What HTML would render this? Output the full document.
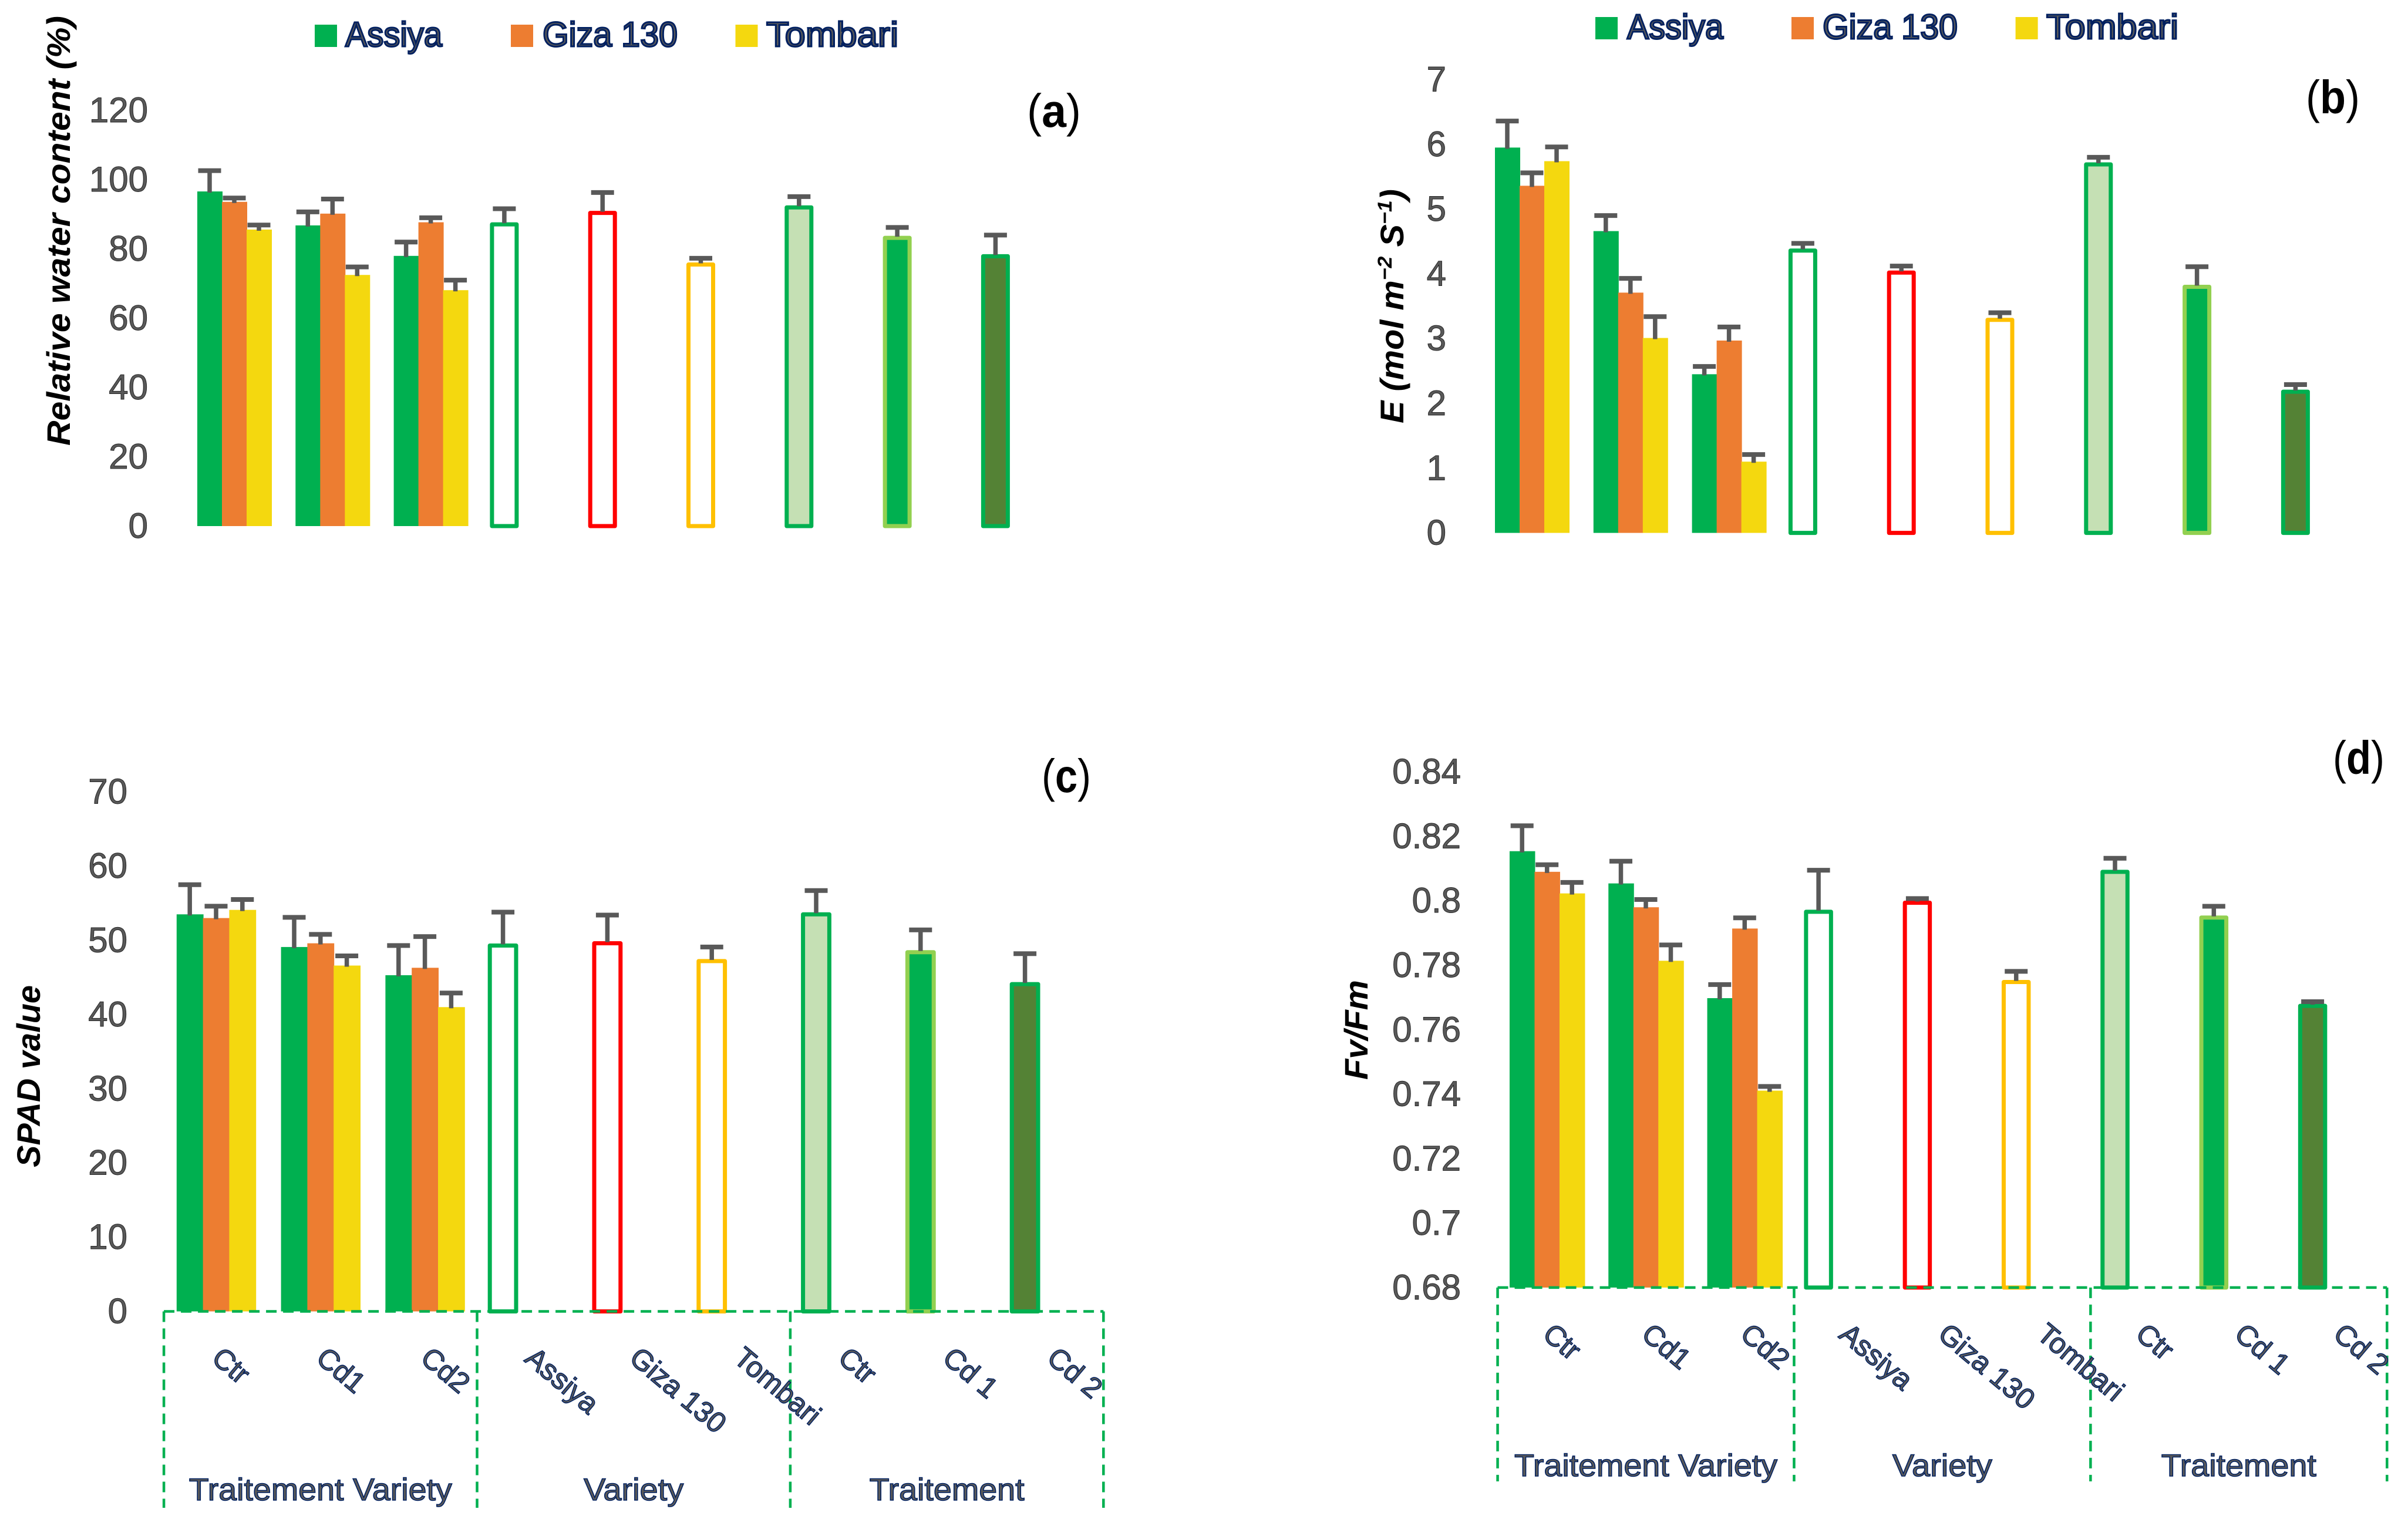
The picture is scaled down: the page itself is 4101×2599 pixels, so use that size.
<!DOCTYPE html>
<html lang="en">
<head>
<meta charset="utf-8">
<title>Relative water content, transpiration, SPAD and Fv/Fm</title>
<style>
html,body{margin:0;padding:0;background:#fff;width:4101px;height:2599px;overflow:hidden}
svg{display:block;font-family:"Liberation Sans",sans-serif}
</style>
</head>
<body>
<svg id="figure" xmlns="http://www.w3.org/2000/svg" width="4101" height="2599" viewBox="0 0 4101 2599"></svg>
<script>
// ---- Shared categories ----
const categories = ["Ctr", "Cd1", "Cd2", "Assiya", "Giza 130", "Tombari", "Ctr", "Cd 1", "Cd 2"];
const seriesNames = ["Assiya", "Giza 130", "Tombari"];
const groupNames = ["Traitement Variety", "Variety", "Traitement"];

// ---- Panel (a): Relative water content ----
const ticksA = [0, 20, 40, 60, 80, 100, 120];
const clusterA = [[96.6, 93.6, 85.6], [86.8, 90.2, 72.5], [78.0, 87.7, 68.1]];
const clusterErrA = [[102.6, 94.7, 86.9], [90.7, 94.4, 74.8], [82.0, 89.0, 71.0]];
const singleA = [87.1, 90.4, 75.5, 92.0, 83.2, 77.9];
const singleErrA = [91.6, 96.3, 77.3, 95.1, 86.2, 84.0];

// ---- Panel (b): E ----
const ticksB = [0, 1, 2, 3, 4, 5, 6, 7];
const clusterB = [[5.95, 5.36, 5.74], [4.66, 3.71, 3.01], [2.45, 2.97, 1.10]];
const clusterErrB = [[6.36, 5.56, 5.96], [4.90, 3.93, 3.34], [2.57, 3.18, 1.21]];
const singleB = [4.36, 4.02, 3.29, 5.69, 3.80, 2.18];
const singleErrB = [4.47, 4.12, 3.40, 5.80, 4.11, 2.29];

// ---- Panel (c): SPAD ----
const ticksC = [0, 10, 20, 30, 40, 50, 60, 70];
const clusterC = [[53.5, 53.0, 54.1], [49.1, 49.6, 46.6], [45.3, 46.3, 41.0]];
const clusterErrC = [[57.5, 54.6, 55.5], [53.1, 50.8, 47.9], [49.3, 50.5, 42.9]];
const singleC = [49.3, 49.6, 47.2, 53.5, 48.4, 44.1];
const singleErrC = [53.8, 53.4, 49.1, 56.7, 51.4, 48.2];

// ---- Panel (d): Fv/Fm ----
const ticksD = [0.68, 0.7, 0.72, 0.74, 0.76, 0.78, 0.8, 0.82, 0.84];
const clusterD = [[0.8154, 0.809, 0.8023], [0.8054, 0.798, 0.7814], [0.7698, 0.7914, 0.7411]];
const clusterErrD = [[0.8233, 0.8112, 0.8057], [0.8123, 0.8004, 0.7863], [0.774, 0.7947, 0.7424]];
const singleD = [0.7966, 0.7994, 0.7748, 0.809, 0.7948, 0.7674];
const singleErrD = [0.8095, 0.8007, 0.7781, 0.8132, 0.7983, 0.7687];

// ---- Styles ----
const seriesColors = ["#00B050", "#ED7D31", "#F4D80F"];
const singleFills = ["#FFFFFF", "#FFFFFF", "#FFFFFF", "#C5E0B4", "#00B050", "#548235"];
const singleStrokes = ["#00B050", "#FF0000", "#FFC000", "#00B050", "#92D050", "#00B050"];

const svg = document.getElementById("figure");
const NS = "http://www.w3.org/2000/svg";
function make(tag, attrs, parent) {
  const el = document.createElementNS(NS, tag);
  for (const k in attrs) el.setAttribute(k, attrs[k]);
  (parent || svg).appendChild(el);
  return el;
}

function drawErr(g, x, top, bottom) {
  const stem = make("line", {x1: x, x2: x, y1: top, y2: bottom + 2, stroke: "#595959", "stroke-width": 7.5}, g);
  
  
  const cap = make("line", {x1: x - 19.5, x2: x + 19.5, y1: top, y2: top, stroke: "#595959", "stroke-width": 8}, g);
  
  
}

function drawPanel(p) {
  const g = make("g", {});
  
  
  const yAt = v => p.y0 - (v - p.min) * p.unit;
  const cx = i => p.xc0 + i * p.step;

  // y tick labels
  p.ticks.forEach(t => {
    const el = make("text", {x: p.tickX, y: yAt(t) + 20, "font-size": 60, fill: "#595959", stroke: "#262626", "stroke-width": 1, "text-anchor": "end"}, g);
    el.textContent = String(t);
    
    
  });

  // clustered bars
  p.cluster.forEach((row, i) => {
    row.forEach((v, s) => {
      const x = cx(i) + (s - 1.5) * p.barW;
      const bar = make("rect", {x: x, y: yAt(v), width: p.barW + 1, height: p.y0 - yAt(v), fill: seriesColors[s]}, g);
      
      
    });
    row.forEach((v, s) => {
      drawErr(g, cx(i) + (s - 1) * p.barW, yAt(p.clusterErr[i][s]), yAt(v));
    });
  });

  // single outlined bars (share the first series slot of their category)
  p.single.forEach((v, k) => {
    const i = k + 3;
    const x = cx(i) - 1.5 * p.barW;
    const bar = make("rect", {x: x, y: yAt(v), width: p.barW, height: p.y0 - yAt(v), fill: singleFills[k], stroke: singleStrokes[k], "stroke-width": 7, "stroke-linejoin": "round"}, g);
    
    
    drawErr(g, x + p.barW / 2, yAt(p.singleErr[k]), yAt(v) - 4);
  });

  // y axis title
  const title = make("text", {transform: "translate(" + p.titleX + "," + p.titleY + ") rotate(-90)", "text-anchor": "middle", "font-size": p.titleSize, "font-weight": "bold", "font-style": "italic", fill: "#000", textLength: p.titleLen, lengthAdjust: "spacingAndGlyphs"}, g);
  
  
  p.title.forEach(part => {
    const ts = make("tspan", part.sup ? {"font-size": p.titleSize * 0.62, dy: -20} : (part.after ? {dy: 20} : {}), title);
    ts.textContent = part.t;
  });

  // panel letter
  const letter = make("text", {x: p.letterX, y: p.letterY, "font-size": 80, fill: "#000", textLength: p.letterLen, lengthAdjust: "spacingAndGlyphs"}, g);
  
  
  const o = make("tspan", {}, letter); o.textContent = "(";
  const m = make("tspan", {"font-weight": "bold"}, letter); m.textContent = p.id;
  const c = make("tspan", {}, letter); c.textContent = ")";

  // legend
  if (p.legend) {
    p.legend.forEach((l, s) => {
      const sq = make("rect", {x: l[0], y: p.legendY - 38, width: 38, height: 38, fill: seriesColors[s]}, g);
      
      
      const t = make("text", {x: l[1], y: p.legendY - 1, "font-size": 59, fill: "#595959", stroke: "#002060", "stroke-width": 3, textLength: l[2], lengthAdjust: "spacingAndGlyphs"}, g);
      t.textContent = seriesNames[s];
      
      
    });
  }

  // category frame, labels and group labels
  if (p.frameBottom) {
    const left = cx(0) - p.step / 2;
    const right = cx(8) + p.step / 2;
    const base = make("line", {x1: left, x2: right, y1: p.y0, y2: p.y0, stroke: "#00B050", "stroke-width": 4.5, "stroke-dasharray": "18 11"}, g);
    
    
    [0, 3, 6, 9].forEach(n => {
      const x = cx(0) - p.step / 2 + n * p.step;
      const v = make("line", {x1: x, x2: x, y1: p.y0, y2: p.frameBottom, stroke: "#00B050", "stroke-width": 4.5, "stroke-dasharray": "18 11"}, g);
      
      
    });
    categories.forEach((name, i) => {
      const t = make("text", {transform: "translate(" + (cx(i) - 10) + "," + (p.y0 + 84) + ") rotate(40)", "font-size": 49, fill: "#595959", stroke: "#002060", "stroke-width": 1.5}, g);
      t.textContent = name;
      
      
    });
    groupNames.forEach((name, k) => {
      const t = make("text", {x: cx(1 + k * 3), y: p.groupY, "font-size": 53, fill: "#595959", stroke: "#002060", "stroke-width": 1.5, "text-anchor": "middle"}, g);
      t.setAttribute('textLength', [448, 170, 264][k]);
      t.setAttribute('lengthAdjust', 'spacingAndGlyphs');
      t.textContent = name;
      
      
    });
  }
}

drawPanel({id: "a", min: 0, ticks: ticksA, cluster: clusterA, clusterErr: clusterErrA, single: singleA, singleErr: singleErrA,
  xc0: 399, step: 167.3, barW: 42, y0: 896, unit: 5.9, tickX: 252,
  title: [{t: "Relative water content (%)"}], titleX: 119, titleY: 393, titleLen: 732, titleSize: 56,
  letterX: 1749, letterY: 216, letterLen: 92, legendY: 80, legend: [[536, 588, 165], [870, 924, 230], [1252.5, 1305, 225]]});

drawPanel({id: "b", min: 0, ticks: ticksB, cluster: clusterB, clusterErr: clusterErrB, single: singleB, singleErr: singleErrB,
  xc0: 2609, step: 167.8, barW: 42, y0: 907.6, unit: 110.3, tickX: 2463,
  title: [{t: "E (mol m"}, {t: "\u22122", sup: true}, {t: " S", after: true}, {t: "\u22121", sup: true}, {t: ")", after: true}], titleX: 2390, titleY: 521.5, titleLen: 399, titleSize: 56,
  letterX: 3927, letterY: 193, letterLen: 92, legendY: 67, legend: [[2717, 2771, 164], [3051, 3104, 230], [3432.6, 3485, 225]]});

drawPanel({id: "c", min: 0, ticks: ticksC, cluster: clusterC, clusterErr: clusterErrC, single: singleC, singleErr: singleErrC,
  xc0: 368, step: 177.8, barW: 44.8, y0: 2233.5, unit: 12.64, tickX: 217,
  title: [{t: "SPAD value"}], titleX: 68, titleY: 1833, titleLen: 310, titleSize: 56,
  letterX: 1774, letterY: 1349, letterLen: 84, frameBottom: 2568, groupY: 2555});

drawPanel({id: "d", min: 0.68, ticks: ticksD, cluster: clusterD, clusterErr: clusterErrD, single: singleD, singleErr: singleErrD,
  xc0: 2634.7, step: 168.3, barW: 42.5, y0: 2192.9, unit: 5489, tickX: 2488,
  title: [{t: "Fv/Fm"}], titleX: 2329, titleY: 1754, titleLen: 170, titleSize: 56,
  letterX: 3973, letterY: 1318, letterLen: 88, frameBottom: 2523, groupY: 2514});
</script>
</body>
</html>
